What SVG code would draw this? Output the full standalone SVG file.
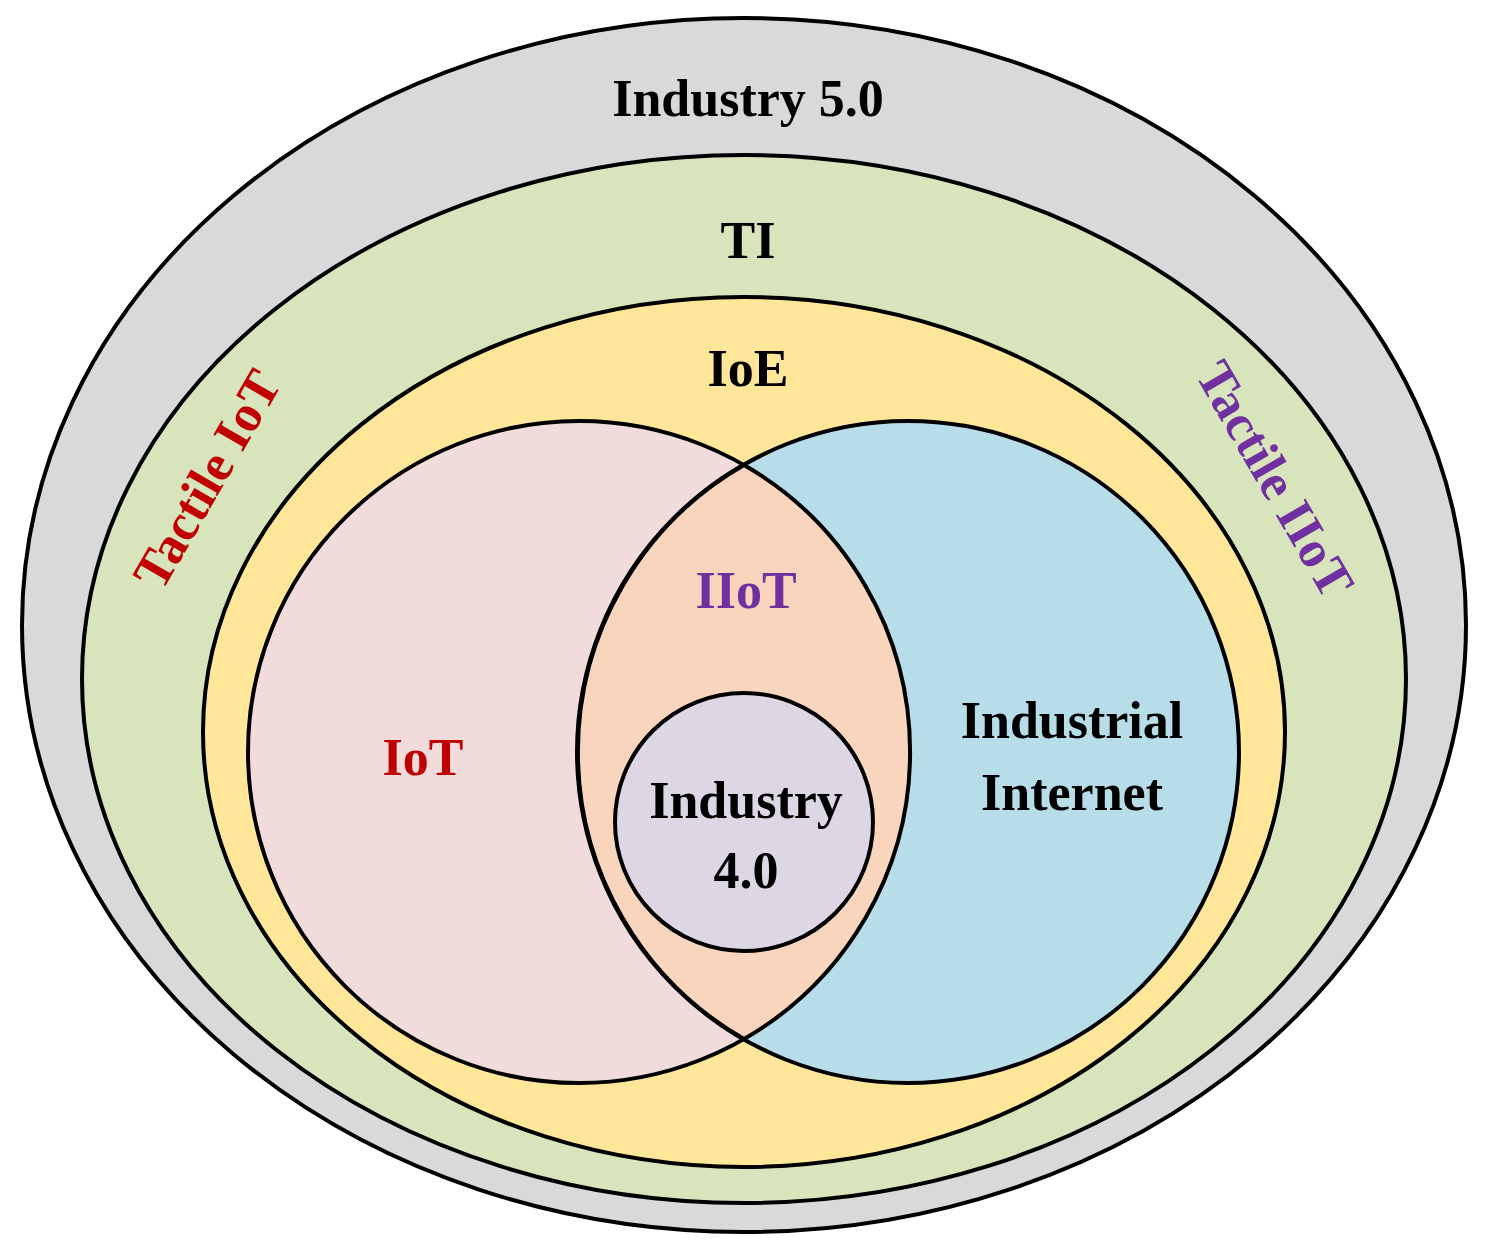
<svg xmlns="http://www.w3.org/2000/svg" width="1486" height="1253" viewBox="0 0 1486 1253">
<style>
.s{stroke:#000;stroke-width:4}
text{font-family:"Liberation Serif","Times New Roman",serif;font-weight:bold;font-size:52px;text-anchor:middle}
</style>
<rect width="1486" height="1253" fill="#fff"/>
<g id="industry50"><ellipse class="s" cx="744" cy="625" rx="722" ry="607" fill="#d9d9d9"/><text x="748" y="116">Industry 5.0</text></g>
<g id="ti"><ellipse class="s" cx="744" cy="679" rx="662" ry="524" fill="#d8e4bc"/><text x="748" y="258">TI</text>
<text fill="#c00000" transform="translate(222,488) rotate(-60)">Tactile IoT</text>
<text fill="#7030a0" transform="translate(1260,488) rotate(60)">Tactile IIoT</text></g>
<g id="ioe"><ellipse class="s" cx="744" cy="732" rx="541" ry="435" fill="#ffe699"/><text x="748" y="386">IoE</text></g>
<g id="iot"><circle class="s" cx="579" cy="752" r="331" fill="#f2dcdb"/><text x="423" y="775" fill="#c00000">IoT</text></g>
<g id="ii"><circle class="s" cx="908" cy="752" r="331" fill="#b7dde8"/><text x="1072" y="738">Industrial</text><text x="1072" y="810">Internet</text></g>
<g id="iiot"><path class="s" d="M744,465 A331,331 0 0 1 744,1039 A331,331 0 0 1 744,465Z" fill="#f9d5bd"/><text x="746" y="608" fill="#7030a0">IIoT</text></g>
<g id="industry40"><circle class="s" cx="744" cy="822" r="129" fill="#ddd7e5"/><text x="746" y="818">Industry</text><text x="746" y="888">4.0</text></g>
<g id="connectors"/>
</svg>
